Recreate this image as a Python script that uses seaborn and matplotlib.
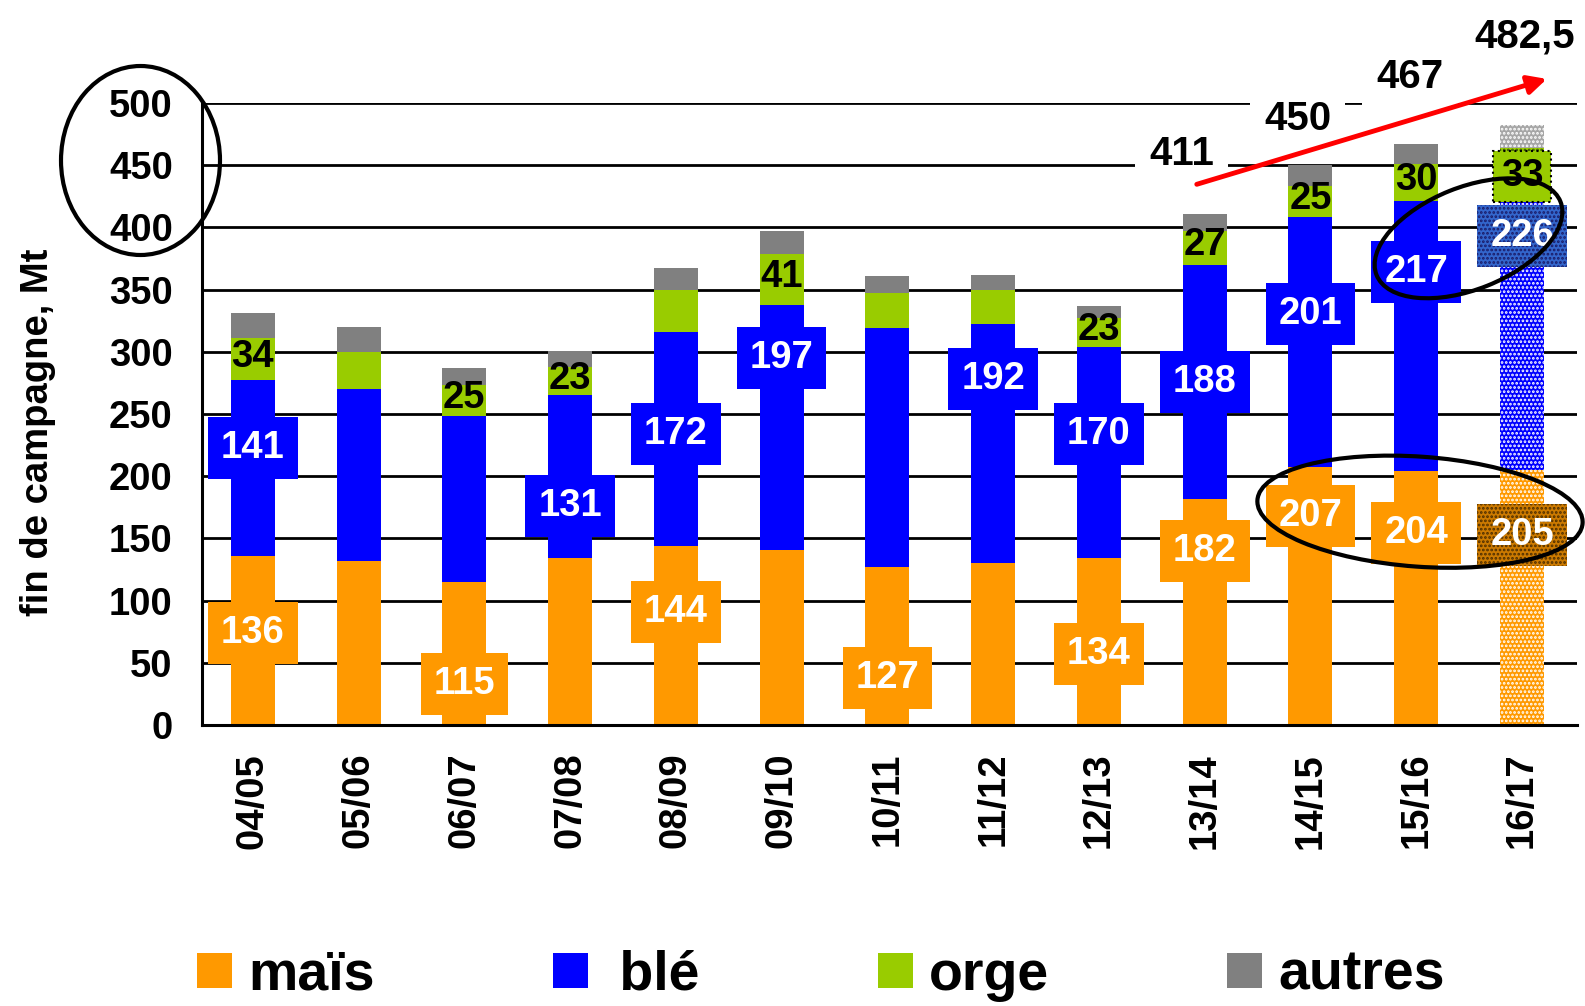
import numpy as np
import pandas as pd
import matplotlib
matplotlib.use('Agg')
import matplotlib.pyplot as plt
import seaborn as sns
from matplotlib.patches import Patch, Ellipse

sns.set_theme(style='white')
plt.rcParams.update({
    'font.family': ['Liberation Sans', 'DejaVu Sans'],
    'font.weight': 'bold',
    'axes.labelweight': 'bold',
    'text.color': 'black',
    'axes.labelcolor': 'black',
    'xtick.color': 'black',
    'ytick.color': 'black',
    'hatch.linewidth': 1.3,
})

# données (Mt)
saisons = ['04/05', '05/06', '06/07', '07/08', '08/09', '09/10', '10/11',
           '11/12', '12/13', '13/14', '14/15', '15/16', '16/17']
mais = [136, 132, 115, 134, 144, 141, 127, 130, 134, 182, 207, 204, 205]
ble = [141, 138, 133, 131, 172, 197, 192, 192, 170, 188, 201, 217, 226]
orge = [34, 30, 25, 23, 34, 41, 28, 28, 23, 27, 25, 30, 33]
autres = [20, 20, 14, 13, 17, 18, 14, 12, 10, 14, 17, 16, 18.5]

# quelles valeurs sont étiquetées
show_mais = [1, 0, 1, 0, 1, 0, 1, 0, 1, 1, 1, 1, 1]
show_ble = [1, 0, 0, 1, 1, 1, 0, 1, 1, 1, 1, 1, 1]
show_orge = [1, 0, 1, 1, 0, 1, 0, 0, 1, 1, 1, 1, 1]
totaux_txt = ['411', '450', '467', '482,5']

# placement des étiquettes (layout, en Mt)
pos_mais = [74, None, 33, None, 91, None, 38, None, 57, 140, 168, 154, 153]
pos_ble = [223, None, None, 176, 234, 295, None, 278, 234, 276, 330, 364, 393]
pos_tot = [(8.78, 450), (9.88, 478), (10.94, 512), (12.03, 545)]

c_mais, c_ble, c_orge, c_autres = '#FF9900', '#0000FF', '#99CC00', '#808080'

df = pd.DataFrame({'saison': saisons, 'mais': mais, 'ble': ble,
                   'orge': orge, 'autres': autres})
df['cum_ble'] = df['mais'] + df['ble']
df['cum_orge'] = df['cum_ble'] + df['orge']
df['total'] = df['cum_orge'] + df['autres']

W, H = 1585, 1006
fig = plt.figure(figsize=(W / 100, H / 100), dpi=100)
ax = fig.add_axes([202 / W, 281 / H, 1375 / W, 622 / H])

# barres empilées : du total vers le bas, chaque couche recouvre la précédente
layers = [('total', c_autres, '#a6a6a6'), ('cum_orge', c_orge, c_orge),
          ('cum_ble', c_ble, c_ble), ('mais', c_mais, c_mais)]
for col, color, last_color in layers:
    sns.barplot(data=df, x='saison', y=col, color=color, saturation=1,
                width=0.416, errorbar=None, ax=ax, linewidth=0, zorder=2)
    last = ax.containers[-1][-1]  # 16/17 : prévision, motif pointillé
    last.set_facecolor(last_color)
    last.set_hatch('....')
    last.set_edgecolor('white' if col != 'cum_orge' else '#335500')

ax.set_xlim(-0.48, 12.52)
ax.set_ylim(0, 500)
ax.set_yticks(np.arange(0, 501, 50))
ax.set_xlabel('')
ax.set_ylabel('fin de campagne, Mt', fontsize=27.5)
ax.yaxis.set_label_coords(-0.106, 0.471)
ax.tick_params(axis='y', length=0, pad=21, labelsize=27.5)
ax.tick_params(axis='x', length=0, pad=20, labelsize=27.5, labelrotation=90)

ax.set_axisbelow(True)
ax.yaxis.grid(True, color='black', lw=2.0)
ax.xaxis.grid(False)
for s in ['top', 'right']:
    ax.spines[s].set_visible(False)
for s in ['left', 'bottom']:
    ax.spines[s].set_color('black')
    ax.spines[s].set_linewidth(2.2)

fs = 27.5
pad = 'square,pad=0.34'
for i in range(len(saisons)):
    last = i == len(saisons) - 1
    if show_mais[i]:
        bb = dict(boxstyle=pad, fc=c_mais, ec='none')
        if last:
            bb = dict(boxstyle=pad, fc='#CC7A00', ec='#4d2e00',
                      lw=0, hatch='....')
        ax.text(i, pos_mais[i], str(mais[i]), ha='center', va='center',
                color='white', fontsize=fs, bbox=bb, zorder=4)
    if show_ble[i]:
        bb = dict(boxstyle=pad, fc=c_ble, ec='none')
        if last:
            bb = dict(boxstyle=pad, fc='#3366CC', ec='#1a1a66',
                      lw=0, hatch='....')
        ax.text(i, pos_ble[i], str(ble[i]), ha='center', va='center',
                color='white', fontsize=fs, bbox=bb, zorder=5 if last else 4)
    if show_orge[i]:
        y = mais[i] + ble[i] + orge[i] / 2 + 2
        kw = {}
        if last:
            y = mais[i] + ble[i] + orge[i] - 23
            kw['bbox'] = dict(boxstyle='square,pad=0.2', fc=c_orge, ec='black',
                              ls=':', lw=1.5)
        ax.text(i, y, str(orge[i]), ha='center', va='center',
                color='black', fontsize=fs, zorder=4, **kw)

# totaux et flèche de tendance
for (x, y), t in zip(pos_tot, totaux_txt):
    ax.text(x, y, t, ha='center', va='baseline', fontsize=29, zorder=6,
            clip_on=False,
            bbox=dict(boxstyle='square,pad=0.35', fc='white', ec='none'))
ax.annotate('', xy=(12.26, 520), xytext=(8.90, 434), annotation_clip=False,
            arrowprops=dict(arrowstyle='-|>', color='red', lw=3.5,
                            mutation_scale=28), zorder=7)

# ellipses de mise en évidence (coordonnées en pixels de la figure)
def px(x, y):
    return (x / 100, (H - y) / 100)

for (cx, cy), w, h, ang in [((140.5, 160.5), 159, 189, 0),
                            ((1468.5, 238.3), 198, 102, 21.8),
                            ((1420, 511.7), 326, 110, -4.1)]:
    e = Ellipse(px(cx, cy), w / 100, h / 100, angle=ang, fill=False,
                ec='black', lw=3, transform=fig.dpi_scale_trans, zorder=10)
    fig.add_artist(e)

handles = [Patch(fc=c, ec='none') for c in [c_mais, c_ble, c_orge, c_autres]]
fig.legend(handles, ['maïs', ' blé', 'orge', 'autres'], loc='center',
           bbox_to_anchor=(0.518, 0.030), ncol=4, frameon=False,
           prop={'size': 40, 'weight': 'bold'}, handlelength=0.63,
           handleheight=0.6, handletextpad=0.3, columnspacing=3.2)

fig.savefig('out.png', dpi=100, facecolor='white')
